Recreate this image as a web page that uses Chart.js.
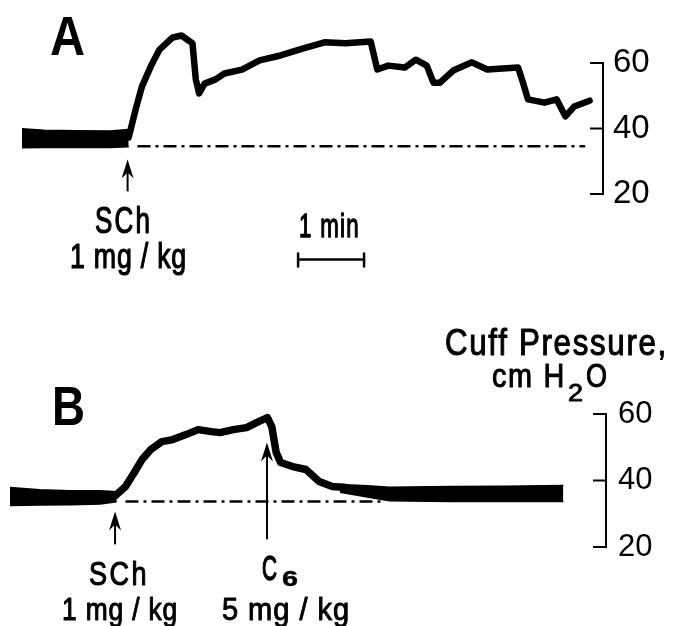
<!DOCTYPE html>
<html><head><meta charset="utf-8">
<script src="https://cdn.jsdelivr.net/npm/chart.js@4/dist/chart.umd.min.js"></script>
<style>
html,body{margin:0;padding:0;background:#fff;}
#wrap{position:relative;width:673px;height:626px;overflow:hidden;}
canvas{position:absolute;left:0;top:0;}
</style></head><body>
<div id="wrap"><canvas id="cA" width="673" height="626"></canvas><canvas id="cB" width="673" height="626"></canvas></div>
<script>
// ---------- DATA (time in s, cuff pressure in cm H2O) ----------
const yTicks = [20, 40, 60];

// Panel A
const bandTimeA   = [0, 20, 50, 80, 97];
const bandUpperA  = [39.9, 39.5, 39.3, 39.2, 39.7];
const bandLowerA  = [34.1, 34.2, 34.2, 34.2, 34.4];
const traceTimeA  = [97, 104, 109, 117, 125, 137, 145, 155, 158, 161, 166, 176, 184, 200, 216, 235, 255, 275, 294, 317, 323, 333, 348, 358, 368, 374, 380, 392, 409, 423, 451, 456, 460, 475, 486, 494, 502, 516];
const tracePressA = [37.3, 46.7, 52.8, 58.9, 64.1, 67.8, 68.4, 66.0, 55.0, 50.7, 53.7, 55.0, 56.8, 58.0, 60.8, 62.3, 64.4, 66.3, 66.0, 66.6, 58.0, 59.2, 58.6, 61.0, 59.2, 54.0, 54.0, 57.7, 60.2, 58.0, 58.6, 53.4, 48.9, 47.9, 48.9, 43.7, 46.7, 48.5];
const refTimeA    = [105, 512];
const refPressA   = [34.6, 34.6];
const arrowsA     = [{time: 96, tip: 30.5, tail: 20.8}];
const scaleBarA   = {time: 251, length: 60, level: 0};

// Panel B
const band1TimeB  = [0, 27, 55, 82, 97];
const band1UpperB = [37.9, 37.2, 36.9, 36.9, 36.6];
const band1LowerB = [32.5, 32.6, 32.7, 32.9, 33.6];
const traceTimeB  = [96, 105, 113, 120, 128, 138, 148, 160, 171, 183, 191, 203, 215, 226, 234, 238, 242, 246, 257, 269, 281, 293, 305];
const tracePressB = [35.5, 38.2, 42.4, 46.3, 49.3, 51.7, 52.3, 53.8, 55.3, 54.7, 54.4, 55.3, 55.9, 57.7, 58.9, 56.2, 48.4, 45.4, 44.2, 43.3, 39.7, 38.2, 37.9];
const band2TimeB  = [300, 325, 345, 400, 450, 503];
const band2UpperB = [38.8, 38.4, 38.0, 38.2, 38.3, 38.5];
const band2LowerB = [36.5, 35.0, 33.9, 33.7, 33.7, 33.7];
const refTimeB    = [105, 340];
const refPressB   = [33.7, 33.7];
const arrowsB     = [{time: 95.5, tip: 30.7, tail: 20.8}, {time: 233.6, tip: 51.4, tail: 22.3}];

// ---------- helpers ----------
const pts = (xs, ys) => xs.map((x, i) => ({x, y: ys[i]}));
const FONT = '"Liberation Sans Narrow","Liberation Sans","DejaVu Sans",sans-serif';

function fitText(ctx, txt, x, y, size, w, opts) {
  opts = opts || {};
  ctx.save();
  ctx.font = (opts.bold ? 'bold ' : '') + size + 'px ' + (opts.family || FONT);
  ctx.textBaseline = 'alphabetic';
  ctx.textAlign = 'left';
  ctx.fillStyle = '#000';
  ctx.strokeStyle = '#000';
  try { ctx.letterSpacing = opts.ls || '0px'; } catch (e) {}
  const m = ctx.measureText(txt).width;
  const sx = w / m;
  ctx.translate(x, y);
  ctx.scale(sx, 1);
  ctx.fillText(txt, 0, 0);
  if (opts.stroke) { ctx.lineWidth = opts.stroke / sx; ctx.lineJoin = 'round'; ctx.strokeText(txt, 0, 0); }
  ctx.restore();
}

function bandSets(t, up, lo) {
  return [
    {data: pts(t, up), borderColor: '#000', backgroundColor: '#000', borderWidth: 1.5, fill: '+1', pointRadius: 0, tension: 0},
    {data: pts(t, lo), borderColor: '#000', borderWidth: 1.5, fill: false, pointRadius: 0, tension: 0}
  ];
}

function overlay(name, arrows, scaleBar, tickLen, texts) {
  return {
    id: 'overlay' + name,
    afterDatasetsDraw(chart) {
      const ctx = chart.ctx, xs = chart.scales.x, ys = chart.scales.y;
      ctx.save();
      ctx.strokeStyle = '#000'; ctx.fillStyle = '#000'; ctx.lineCap = 'butt';
      ctx.lineWidth = 2;
      const bx = ys.left;
      ys.ticks.forEach(tk => {
        const py = ys.getPixelForValue(tk.value);
        ctx.beginPath(); ctx.moveTo(bx - tickLen, py); ctx.lineTo(bx + 1, py); ctx.stroke();
      });
      arrows.forEach(a => {
        const px = xs.getPixelForValue(a.time);
        const pt = ys.getPixelForValue(a.tip), pb = ys.getPixelForValue(a.tail);
        ctx.lineWidth = 2;
        ctx.beginPath(); ctx.moveTo(px, pt + 6); ctx.lineTo(px, pb); ctx.stroke();
        ctx.beginPath();
        ctx.moveTo(px, pt); ctx.lineTo(px + 6, pt + 19); ctx.lineTo(px, pt + 13); ctx.lineTo(px - 6, pt + 19);
        ctx.closePath(); ctx.fill();
      });
      if (scaleBar) {
        const x1 = xs.getPixelForValue(scaleBar.time), x2 = xs.getPixelForValue(scaleBar.time + scaleBar.length);
        const py = ys.getPixelForValue(scaleBar.level);
        ctx.lineWidth = 2.5;
        ctx.beginPath(); ctx.moveTo(x1, py); ctx.lineTo(x2, py); ctx.stroke();
        ctx.beginPath(); ctx.moveTo(x1, py - 7); ctx.lineTo(x1, py + 8); ctx.moveTo(x2, py - 7); ctx.lineTo(x2, py + 8); ctx.stroke();
      }
      ctx.restore();
      texts.forEach(t => fitText(ctx, t.text, t.x, t.y, t.size, t.w, t.opts));
    }
  };
}

function makeChart(id, datasets, pad, axisW, xMax, tickFont, tickPad, plugin) {
  return new Chart(document.getElementById(id), {
    type: 'line',
    data: {datasets},
    options: {
      responsive: false, animation: false, devicePixelRatio: 1,
      layout: {padding: pad},
      plugins: {legend: {display: false}, tooltip: {enabled: false}},
      elements: {point: {radius: 0}},
      scales: {
        x: {type: 'linear', display: false, min: 0, max: xMax},
        y: {
          type: 'linear', position: 'right', min: yTicks[0], max: yTicks[yTicks.length - 1],
          afterBuildTicks: s => { s.ticks = yTicks.map(v => ({value: v})); },
          afterFit: s => { s.width = axisW; },
          grid: {display: false, drawTicks: false},
          border: {display: true, color: '#000', width: 2},
          ticks: {color: '#000', padding: tickPad, font: {family: '"Liberation Sans", Arial, sans-serif', size: tickFont}}
        }
      }
    },
    plugins: [plugin]
  });
}

// ---------- Panel A ----------
const dsA = [
  ...bandSets(bandTimeA, bandUpperA, bandLowerA),
  {data: pts(traceTimeA, tracePressA), borderColor: '#000', borderWidth: 6.5, fill: false, pointRadius: 0, tension: 0, clip: false, borderJoinStyle: 'round', borderCapStyle: 'round'},
  {data: pts(refTimeA, refPressA), borderColor: '#000', borderWidth: 2.5, borderDash: [13, 5, 3, 5], fill: false, pointRadius: 0}
];
const textsA = [
  {text: 'A', x: 50, y: 55, size: 56, w: 35, opts: {bold: true, family: '"Liberation Sans", Arial, sans-serif'}},
  {text: 'SCh', x: 95, y: 233, size: 36, w: 57, opts: {ls: '3px', stroke: 0.9}},
  {text: '1 mg / kg', x: 70, y: 268, size: 35, w: 117, opts: {ls: '1px', stroke: 0.9}},
  {text: '1 min', x: 299, y: 237, size: 34, w: 61, opts: {ls: '2px', stroke: 0.9}}
];
makeChart('cA', dsA, {left: 22, top: 63, right: 0, bottom: 432}, 70, 528.2, 33, 10,
  overlay('A', arrowsA, scaleBarA, 13, textsA));

// ---------- Panel B ----------
const dsB = [
  ...bandSets(band1TimeB, band1UpperB, band1LowerB),
  ...bandSets(band2TimeB, band2UpperB, band2LowerB),
  {data: pts(traceTimeB, tracePressB), borderColor: '#000', borderWidth: 7.5, fill: false, pointRadius: 0, tension: 0, clip: false, borderJoinStyle: 'round', borderCapStyle: 'round'},
  {data: pts(refTimeB, refPressB), borderColor: '#000', borderWidth: 2.5, borderDash: [13, 5, 3, 5], fill: false, pointRadius: 0}
];
const textsB = [
  {text: 'B', x: 52, y: 425, size: 56, w: 33, opts: {bold: true, family: '"Liberation Sans", Arial, sans-serif'}},
  {text: 'Cuff Pressure,', x: 445, y: 355, size: 37, w: 223, opts: {ls: '2px', stroke: 0.9}},
  {text: 'cm H', x: 492, y: 387, size: 34, w: 74, opts: {ls: '2px', stroke: 0.9}},
  {text: '2', x: 568, y: 401, size: 23, w: 15, opts: {stroke: 1}},
  {text: 'O', x: 586, y: 387, size: 34, w: 21, opts: {stroke: 0.9}},
  {text: 'SCh', x: 89, y: 585, size: 33, w: 60, opts: {ls: '3px', stroke: 0.9}},
  {text: '1 mg / kg', x: 62, y: 620, size: 31, w: 116, opts: {ls: '1px', stroke: 0.9}},
  {text: 'C', x: 262, y: 580, size: 35, w: 15, opts: {stroke: 0.9}},
  {text: '6', x: 282, y: 586, size: 22, w: 16, opts: {bold: true, stroke: 0.6}},
  {text: '5 mg / kg', x: 222, y: 620, size: 31, w: 128, opts: {ls: '1px', stroke: 0.9}}
];
makeChart('cB', dsB, {left: 10, top: 414, right: 0, bottom: 79}, 67, 541.8, 31, 12,
  overlay('B', arrowsB, null, 13, textsB));
</script>
</body></html>
